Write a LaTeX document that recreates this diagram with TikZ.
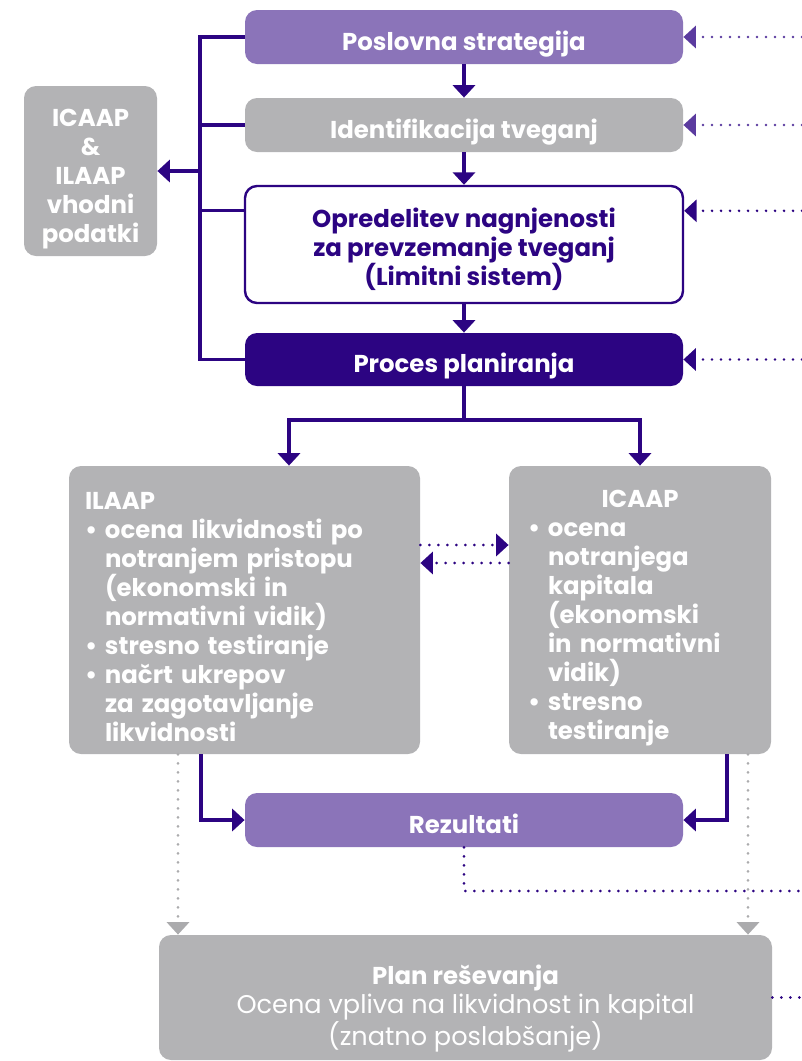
\documentclass[tikz,border=0pt]{standalone}
\usepackage{fontspec}
\setmainfont{Poppins}
\usepackage{xcolor}
\usetikzlibrary{arrows.meta, positioning, calc}

\definecolor{lilac}{HTML}{8B74B9}
\definecolor{ink}{HTML}{2C0482}
\definecolor{midviolet}{HTML}{5B3B9F}
\definecolor{ash}{HTML}{B3B3B5}
\definecolor{ashdot}{HTML}{ABABAD}

\newcommand{\itm}[1]{\makebox[10pt][l]{\textbullet}#1}
\newcommand{\ind}{\hspace*{10pt}}
\newcommand{\lift}[1]{\rule{0pt}{#1}}

\begin{document}
\begin{tikzpicture}[x=0.5pt, y=-0.5pt,
    box/.style={rounded corners=6pt, inner sep=0pt, align=center,
        font=\bfseries\fontsize{12.2}{14.5}\selectfont, text=white},
    oneline/.style={box, minimum width=219pt, minimum height=27pt, text height=13pt, text depth=0pt},
    link/.style={ink, line width=1.55pt},
    flow/.style={link, -{Triangle[width=11pt,length=6.2pt]}},
    dotline/.style={ink, line width=1.45pt, dash pattern=on 0pt off 4.5pt, line cap=round},
    feed/.style={dotline, -{Triangle[width=11pt,length=6.2pt]}},
    greyfeed/.style={feed, ashdot}]
    \useasboundingbox (0,0) rectangle (802,1061);

    % main column
    \node[oneline, fill=lilac] (strategy) at (464,37) {Poslovna strategija};
    \node[oneline, fill=ash] (risks) at (464,125) {Identifikacija tveganj};
    \node[box, fill=white, draw=ink, line width=1.2pt, text=ink, minimum width=219pt, minimum height=58.5pt] (appetite) at (464,244.5) {\lift{15pt}Opredelitev nagnjenosti\\za prevzemanje tveganj\\(Limitni sistem)};
    \node[oneline, fill=ink, minimum height=26.5pt] (planning) at (464,359.5) {Proces planiranja};
    \node[box, fill=ash, minimum width=66.5pt, minimum height=85pt] (inputs) at (90.5,171) {\lift{17pt}ICAAP\\\&\\ILAAP\\vhodni\\podatki};

    \node[box, fill=ash, minimum width=175.5pt, minimum height=144pt, text width=159.5pt, align=left] (ilaap) at (244.5,610) {\lift{16pt}ILAAP\\
        \itm{ocena likvidnosti po}\\
        \ind notranjem pristopu\\
        \ind (ekonomski in\\
        \ind normativni vidik)\\
        \itm{stresno testiranje}\\
        \itm{načrt ukrepov}\\
        \ind za zagotavljanje\\
        \ind likvidnosti};
    \node[box, fill=ash, minimum width=131pt, minimum height=144pt, text width=112pt, align=left] (icaap) at (640,610) {\lift{17pt}\hfill ICAAP\hfill\null\\
        \itm{ocena}\\
        \ind notranjega\\
        \ind kapitala\\
        \ind (ekonomski\\
        \ind in normativni\\
        \ind vidik)\\
        \itm{stresno}\\
        \ind testiranje};

    \node[oneline, fill=lilac] (results) at (464,820) {Rezultati};
    \node[box, fill=ash, minimum width=306.5pt, minimum height=62.5pt] (resolution) at (465.5,997.5) {\lift{21pt}Plan reševanja\\
        \mdseries\fontsize{12.8}{14.5}\selectfont Ocena vpliva na likvidnost in kapital\\
        \mdseries\fontsize{12.8}{14.5}\selectfont (znatno poslabšanje)};

    \coordinate (spine) at (200,171);
    \coordinate (rim) at (802,0);
    \coordinate (split) at (464,420);
    \coordinate (rim low) at (802,891);
    \coordinate (appetite in) at ([yshift=-13pt]appetite.north west);
    \coordinate (appetite out) at ([yshift=-13pt]appetite.north east);

    % inputs bracket
    \draw[link] (strategy.west) -| (spine) |- (planning.west);
    \draw[link] (risks.west) -- (risks.west -| spine);
    \draw[link] (appetite in) -- (appetite in -| spine);
    \draw[flow] (spine) -- (inputs.east);

    \draw[flow] (strategy) -- (risks);
    \draw[flow] (risks) -- (appetite);
    \draw[flow] (appetite) -- (planning);

    % feedback from the right
    \draw[feed, midviolet] (strategy.east -| rim) -- (strategy.east);
    \draw[feed, midviolet] (risks.east -| rim) -- (risks.east);
    \draw[feed] (appetite out -| rim) -- (appetite out);
    \draw[feed] (planning.east -| rim) -- (planning.east);

    \draw[link] (planning) -- (split);
    \draw[flow] (split) -| ([xshift=22.25pt]ilaap.north);
    \draw[flow] (split) -| (icaap.north);

    \draw[feed] ([yshift=32.5pt]ilaap.east) -- ([yshift=32.5pt]icaap.west);
    \draw[feed] ([yshift=23.5pt]icaap.west) -- ([yshift=23.5pt]ilaap.east);

    \draw[flow] ([xshift=-21.75pt]ilaap.south) |- (results.west);
    \draw[flow] ([xshift=43.5pt]icaap.south) |- (results.east);
    \draw[dotline] (results.south) |- (rim low);

    \draw[greyfeed] ([xshift=-33.25pt]ilaap.south) -- ([xshift=-33.25pt]ilaap.south |- resolution.north);
    \draw[greyfeed] ([xshift=54pt]icaap.south) -- ([xshift=54pt]icaap.south |- resolution.north);
    \draw[dotline] (resolution.east) -- (resolution.east -| rim);
\end{tikzpicture}
\end{document}
